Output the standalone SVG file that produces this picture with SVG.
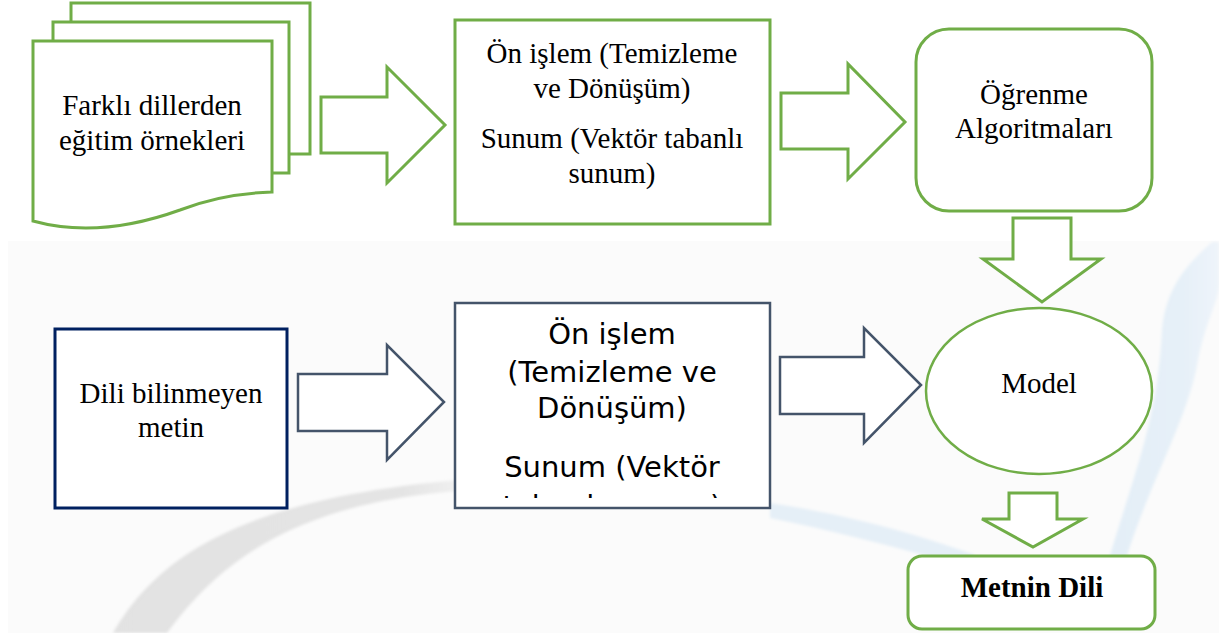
<svg xmlns="http://www.w3.org/2000/svg" width="1219" height="633" viewBox="0 0 1219 633">
  <style>
    .g { fill: #ffffff; stroke: #70ad47; stroke-width: 3; stroke-linejoin: miter; }
    .s { fill: #ffffff; stroke: #44546a; stroke-width: 2.5; stroke-linejoin: miter; }
    .n { fill: #ffffff; stroke: #002060; stroke-width: 3; }
    .serif { font-family: "Liberation Serif", "Times New Roman", serif; font-size: 29px; fill: #000000; text-anchor: middle; }
    .sans { font-family: "DejaVu Sans", Verdana, sans-serif; font-size: 29px; fill: #000000; text-anchor: middle; }
    .bold { font-weight: bold; }
  </style>
  <defs>
    <filter id="soft" x="-10%" y="-10%" width="120%" height="120%">
      <feGaussianBlur stdDeviation="1.6"/>
    </filter>
    <linearGradient id="greyFade" x1="100" y1="0" x2="480" y2="0" gradientUnits="userSpaceOnUse">
      <stop offset="0" stop-color="#e2e2e2"/>
      <stop offset="0.8" stop-color="#e4e4e4"/>
      <stop offset="1" stop-color="#f4f4f4"/>
    </linearGradient>
    <linearGradient id="blueFade" x1="1100" y1="0" x2="1219" y2="0" gradientUnits="userSpaceOnUse">
      <stop offset="0" stop-color="#e3eef7"/>
      <stop offset="0.7" stop-color="#e6f0f8"/>
      <stop offset="1" stop-color="#eef4fa"/>
    </linearGradient>
    <clipPath id="boxClip">
      <rect x="455" y="303" width="315" height="195"/>
    </clipPath>
  </defs>

  <!-- page background with a faint watermark in the lower part -->
  <rect x="0" y="0" width="1219" height="633" fill="#ffffff"/>
  <rect x="8" y="241" width="1211" height="392" fill="#fbfbfb"/>
  <g id="watermark" filter="url(#soft)">
    <path d="M113,633 C150,570 220,500 460,480 L472,490 C300,500 220,560 167,633 Z" fill="url(#greyFade)"/>
    <path d="M1212,242 C1190,262 1166,285 1162,330 C1158,420 1132,480 1108,562 L1125,562 C1150,480 1188,420 1198,360 C1206,320 1219,300 1219,285 L1219,242 Z" fill="url(#blueFade)"/>
    <path d="M770,503 C830,512 900,528 975,555 L962,566 C900,548 830,530 770,518 Z" fill="#e5eff7"/>
  </g>

  <!-- connectors: block arrows -->
  <g id="connectors">
    <polygon class="g" points="321,97 387,97 387,67 445,125 387,183 387,153 321,153"/>
    <polygon class="g" points="781,93 848,93 848,64 905,122 848,179 848,149 781,149"/>
    <polygon class="g" points="1013,218 1071,218 1071,259 1101,259 1042,302 983,259 1013,259"/>
    <polygon class="s" points="298,374 387,374 387,345 444,402 387,460 387,431 298,431"/>
    <polygon class="s" points="780,357 864,357 864,328 921,385 864,443 864,414 780,414"/>
    <polygon class="g" points="1009,493 1057,493 1057,519 1083,519 1033,547 982,519 1009,519"/>
  </g>

  <!-- training documents (stacked pages) -->
  <g id="training-docs">
    <rect class="g" x="71" y="3" width="239" height="151"/>
    <rect class="g" x="53" y="22" width="236" height="151"/>
    <path class="g" d="M33,41 L272,41 L272,192 C240,193 210,198 180,210 C130,228 80,234 33,221 Z"/>
    <text class="serif" x="152" y="115">Farklı dillerden</text>
    <text class="serif" x="152" y="150">eğitim örnekleri</text>
  </g>

  <!-- preprocessing and representation (training) -->
  <g id="preprocess-train">
    <rect class="g" x="455" y="20" width="315" height="204"/>
    <text class="serif" x="612" y="63">Ön işlem (Temizleme</text>
    <text class="serif" x="612" y="98">ve Dönüşüm)</text>
    <text class="serif" x="612" y="148">Sunum (Vektör tabanlı</text>
    <text class="serif" x="612" y="183">sunum)</text>
  </g>

  <!-- learning algorithms -->
  <g id="learning">
    <rect class="g" x="916" y="29" width="236" height="182" rx="33" ry="33"/>
    <text class="serif" x="1034" y="104">Öğrenme</text>
    <text class="serif" x="1034" y="138">Algoritmaları</text>
  </g>

  <!-- unknown-language input text -->
  <g id="unknown-text">
    <rect class="n" x="55" y="329" width="232" height="179"/>
    <text class="serif" x="171" y="403">Dili bilinmeyen</text>
    <text class="serif" x="171" y="437">metin</text>
  </g>

  <!-- preprocessing and representation (prediction) -->
  <g id="preprocess-predict">
    <rect class="s" x="455" y="303" width="315" height="205"/>
    <g clip-path="url(#boxClip)">
      <text class="sans" x="612" y="344">Ön işlem</text>
      <text class="sans" x="612" y="382">(Temizleme ve</text>
      <text class="sans" x="612" y="418">Dönüşüm)</text>
      <text class="sans" x="612" y="477">Sunum (Vektör</text>
      <text class="sans" x="612" y="516">tabanlı sunum)</text>
    </g>
  </g>

  <!-- trained model -->
  <g id="model">
    <ellipse class="g" cx="1039" cy="391" rx="113" ry="83" style="stroke-width:2.5"/>
    <text class="serif" x="1039" y="393">Model</text>
  </g>

  <!-- result -->
  <g id="result">
    <rect class="g" x="908" y="556" width="247" height="73" rx="14" ry="14"/>
    <text class="serif bold" x="1032" y="597">Metnin Dili</text>
  </g>
</svg>
